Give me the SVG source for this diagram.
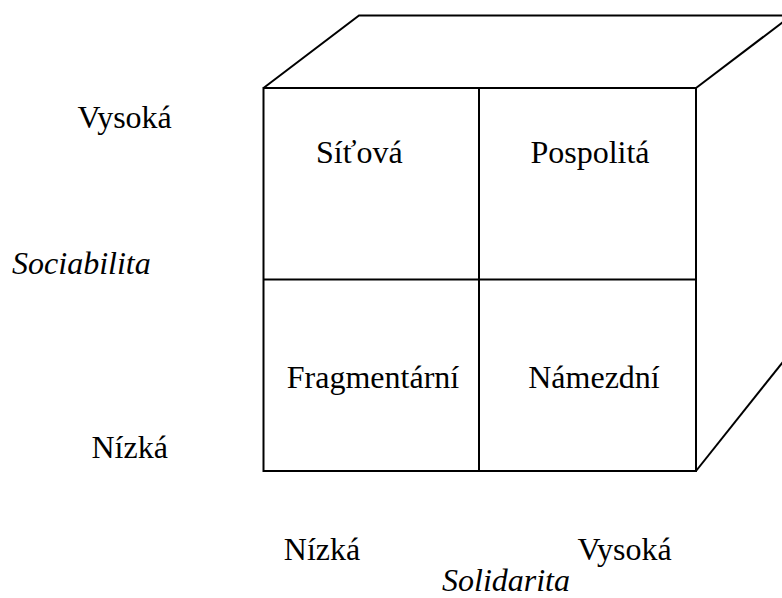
<svg xmlns="http://www.w3.org/2000/svg" width="782" height="598" viewBox="0 0 782 598">
  <style>
    .edge { fill: none; stroke: #000; stroke-width: 2; }
    .lbl { font-family: "Liberation Serif", "Times New Roman", serif; font-size: 32px; fill: #000; text-anchor: middle; }
    .axis { font-style: italic; }
  </style>
  <rect width="782" height="598" fill="#fff"/>

  <!-- cube outline -->
  <g id="connectors">
    <g id="cube-top">
      <polyline class="edge" points="263.5,88 359,15.5 800,15.5"/>
      <line class="edge" x1="696" y1="88" x2="791.5" y2="15.5"/>
    </g>
    <g id="cube-side">
      <line class="edge" x1="696" y1="471" x2="790" y2="353"/>
    </g>
    <g id="cube-front">
      <rect class="edge" x="263.5" y="88" width="432.5" height="383"/>
      <line class="edge" x1="479" y1="88" x2="479" y2="471"/>
      <line class="edge" x1="263.5" y1="279.5" x2="696" y2="279.5"/>
    </g>
  </g>

  <!-- quadrants -->
  <g id="q-sitova"><text class="lbl" x="359.3" y="163">Síťová</text></g>
  <g id="q-pospolita"><text class="lbl" x="590" y="163">Pospolitá</text></g>
  <g id="q-fragmentarni"><text class="lbl" x="373" y="388">Fragmentární</text></g>
  <g id="q-namezdni"><text class="lbl" x="594" y="388">Námezdní</text></g>

  <!-- vertical axis: sociability -->
  <g id="axis-sociabilita">
    <text class="lbl" x="124.7" y="128">Vysoká</text>
    <text class="lbl axis" x="81.4" y="274">Sociabilita</text>
    <text class="lbl" x="129.7" y="458">Nízká</text>
  </g>

  <!-- horizontal axis: solidarity -->
  <g id="axis-solidarita">
    <text class="lbl" x="322" y="560">Nízká</text>
    <text class="lbl" x="624.5" y="560">Vysoká</text>
    <text class="lbl axis" x="506" y="591">Solidarita</text>
  </g>
</svg>
